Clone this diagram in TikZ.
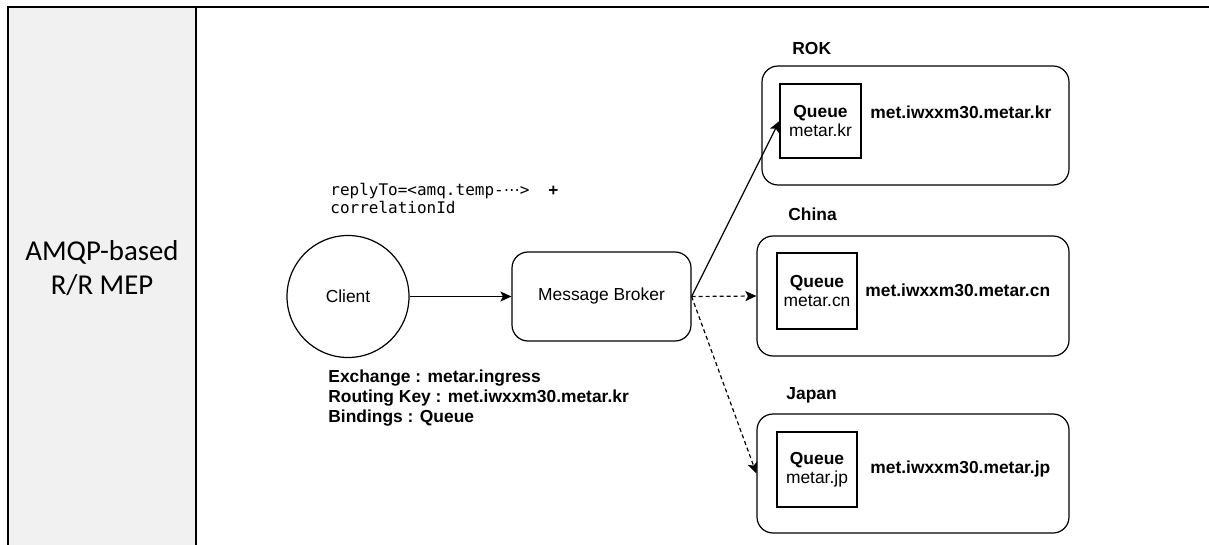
\documentclass[tikz,border=0pt]{standalone}
\usepackage{fontspec}
\setmainfont{Liberation Sans}
\setmonofont{DejaVu Sans Mono}
\newfontfamily\calfont{Carlito}
\newfontfamily\dejavufont{DejaVu Sans}
\usetikzlibrary{arrows.meta}
\definecolor{cellgray}{HTML}{F1F1F1}

\begin{document}
\begin{tikzpicture}[x=0.5pt,y=-0.5pt,
        every node/.style={font=\fontsize{8.7}{9.5}\selectfont},
        box/.style={draw,rounded corners=8pt,line width=0.6pt},
        qbox/.style={draw,line width=0.6pt,align=center,inner sep=0pt},
        tag/.style={anchor=base west,inner sep=0pt,font=\fontsize{8.7}{9.8}\selectfont\bfseries},
        link/.style={-{Stealth[length=5.5pt,width=5pt,inset=1.3pt]},line width=0.6pt},
        dashline/.style={link,dash pattern=on 2pt off 1.5pt}]
        \useasboundingbox (0,0) rectangle (1209,545);
        \fill [cellgray] (8,7) rectangle (196,545);
        \draw [line width=1.25pt] (8,545) -- (8,7) -- (1209,7);
        \draw [line width=1.25pt] (196,7) -- (196,545);

        \node [align=center,font=\fontsize{14.4}{17}\calfont] at (102,268) (mep){AMQP-based\\R/R MEP};

        \node [draw,circle,minimum size=61pt,line width=0.6pt] at (348,296.5) (client){Client};
        \node [box,minimum width=89.5pt,minimum height=44.5pt] at (601.5,296.5) (broker){Message Broker};

        \node [anchor=base west,align=left,inner sep=0pt,font=\fontsize{8}{9}\ttfamily] at (330,213.5) (reply){replyTo=<amq.temp-{\dejavufont ⋯}>\ \ {\bfseries +}\\correlationId};
        \node [tag,align=left] at (328,422) (props){Exchange : metar.ingress\\Routing Key : met.iwxxm30.metar.kr\\Bindings : Queue};

        \node [box,minimum width=153.5pt,minimum height=59.5pt] at (915.5,125.5) (rok){};
        \node [box,minimum width=156pt,minimum height=60pt] at (913,296) (china){};
        \node [box,minimum width=156pt,minimum height=59.5pt] at (913,473.5) (japan){};

        \node [qbox,minimum width=40.5pt,minimum height=37pt] at (820.5,121) (rokq){\textbf{Queue}\\metar.kr};
        \node [qbox,minimum width=40pt,minimum height=38pt] at (817,291) (chinaq){\textbf{Queue}\\metar.cn};
        \node [qbox,minimum width=40pt,minimum height=37.5pt] at (817,469.5) (japanq){\textbf{Queue}\\metar.jp};

        \node [tag] at (870,118.5) (rokkey){met.iwxxm30.metar.kr};
        \node [tag] at (865,296.5) (chinakey){met.iwxxm30.metar.cn};
        \node [tag] at (870,473) (japankey){met.iwxxm30.metar.jp};

        \node [tag] at (792,55) (rokl){ROK};
        \node [tag] at (788,220.5) (chinal){China};
        \node [tag] at (786,399) (japanl){Japan};

        \draw [link] (client) -- (broker);
        \draw [link] (broker.east) -- (rokq.west);
        \draw [dashline] (broker.east) -- (china.west);
        \draw [dashline] (broker.east) -- (japan.west);
      \end{tikzpicture}
\end{document}
